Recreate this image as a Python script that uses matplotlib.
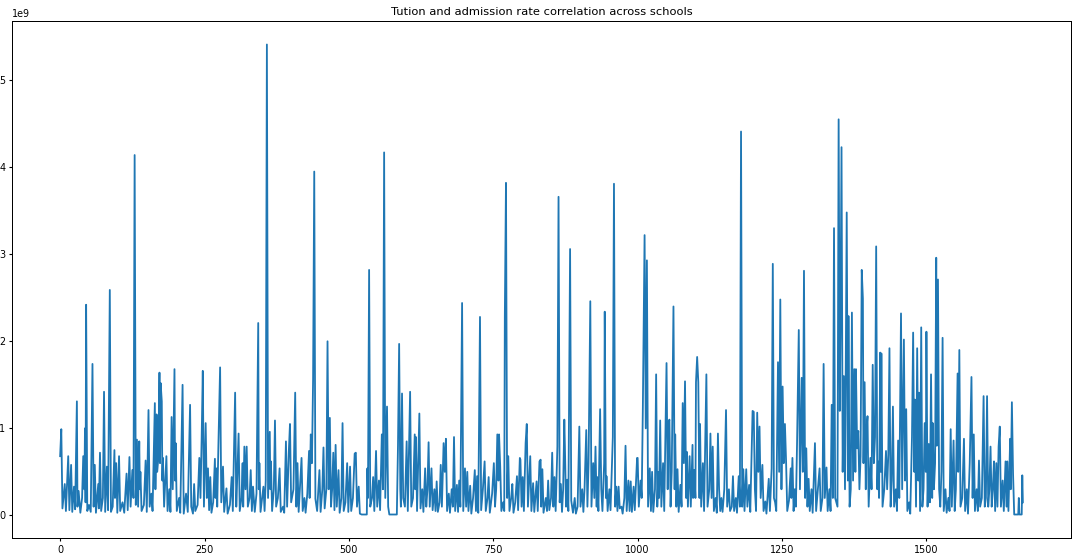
"""Tuition vs. admission rate line across schools (recreation of notebook chart)."""
import matplotlib
matplotlib.use("Agg")
import matplotlib.pyplot as plt
import numpy as np

OUT_PATH = "out.png"

# school row index (x) and value in units of 1e9 (y)
school_index = [
    0, 2, 4, 8, 10, 14, 16, 19, 21, 24, 26, 29, 30, 32, 35, 38, 40, 42, 43, 44,
    45, 47, 50, 53, 56, 58, 60, 62, 66, 67, 69, 71, 74, 76, 78, 81, 83, 86, 88, 91,
    94, 95, 97, 99, 102, 104, 108, 111, 115, 117, 120, 122, 125, 127, 129, 131, 133, 135, 137, 138,
    139, 141, 145, 148, 150, 153, 155, 158, 160, 164, 165, 167, 168, 170, 172, 173, 174, 176, 177, 178,
    180, 184, 186, 189, 191, 193, 195, 198, 199, 200, 202, 206, 208, 212, 214, 218, 221, 225, 227, 230,
    232, 234, 238, 241, 243, 245, 247, 249, 252, 254, 256, 258, 260, 262, 265, 268, 269, 271, 272, 274,
    277, 279, 282, 284, 288, 290, 294, 297, 299, 303, 305, 306, 309, 311, 314, 316, 317, 319, 321, 323,
    325, 328, 330, 332, 334, 337, 340, 343, 344, 345, 347, 352, 354, 356, 358, 360, 363, 364, 365, 367,
    370, 372, 374, 377, 380, 382, 386, 388, 391, 393, 396, 398, 400, 404, 407, 409, 411, 413, 418, 420,
    423, 425, 428, 431, 432, 434, 436, 438, 440, 442, 445, 449, 451, 454, 456, 458, 461, 463, 465, 467,
    469, 471, 473, 475, 477, 479, 482, 484, 487, 489, 491, 494, 497, 499, 502, 504, 507, 510, 512, 514,
    517, 519, 522, 531, 532, 533, 535, 537, 540, 542, 544, 547, 549, 552, 554, 557, 559, 561, 563, 566,
    568, 570, 583, 585, 587, 589, 590, 592, 594, 597, 600, 602, 606, 608, 611, 614, 615, 616, 618, 622,
    624, 627, 629, 632, 634, 636, 638, 640, 643, 645, 648, 650, 652, 654, 657, 659, 661, 664, 666, 668,
    670, 673, 675, 678, 680, 682, 684, 687, 689, 691, 693, 696, 698, 701, 703, 705, 707, 710, 712, 715,
    718, 720, 722, 724, 727, 729, 732, 735, 737, 740, 742, 744, 748, 751, 753, 755, 757, 759, 760, 762,
    764, 767, 769, 770, 772, 774, 776, 778, 781, 783, 785, 788, 791, 793, 796, 797, 799, 801, 803, 806,
    808, 810, 814, 816, 819, 821, 825, 827, 830, 832, 833, 835, 837, 841, 843, 845, 847, 850, 852, 854,
    856, 858, 861, 863, 865, 867, 869, 871, 873, 874, 876, 878, 880, 883, 885, 888, 891, 893, 896, 899,
    901, 904, 906, 908, 911, 913, 915, 918, 920, 923, 925, 927, 929, 930, 932, 935, 937, 939, 942, 943,
    945, 946, 948, 951, 953, 957, 959, 961, 963, 965, 967, 969, 972, 974, 977, 979, 981, 984, 986, 988,
    990, 993, 995, 999, 1000, 1002, 1005, 1007, 1009, 1012, 1014, 1016, 1018, 1021, 1023, 1025, 1027, 1030, 1032, 1034,
    1036, 1037, 1039, 1041, 1044, 1046, 1050, 1052, 1053, 1055, 1057, 1059, 1062, 1064, 1065, 1067, 1069, 1071, 1074, 1076,
    1078, 1080, 1082, 1084, 1085, 1087, 1090, 1092, 1095, 1096, 1098, 1100, 1101, 1103, 1105, 1107, 1108, 1110, 1113, 1115,
    1119, 1121, 1124, 1126, 1128, 1130, 1132, 1135, 1137, 1139, 1141, 1143, 1145, 1147, 1150, 1153, 1155, 1158, 1160, 1163,
    1165, 1167, 1170, 1172, 1175, 1177, 1179, 1181, 1183, 1185, 1188, 1190, 1193, 1195, 1199, 1201, 1203, 1205, 1207, 1209,
    1211, 1213, 1216, 1218, 1221, 1223, 1227, 1229, 1232, 1234, 1236, 1238, 1240, 1243, 1245, 1247, 1249, 1251, 1253, 1255,
    1257, 1259, 1262, 1265, 1266, 1268, 1270, 1272, 1274, 1276, 1279, 1281, 1284, 1286, 1288, 1290, 1292, 1294, 1296, 1298,
    1301, 1303, 1307, 1309, 1312, 1315, 1317, 1320, 1322, 1324, 1327, 1329, 1332, 1334, 1336, 1338, 1340, 1342, 1344, 1346,
    1348, 1350, 1351, 1353, 1355, 1357, 1359, 1362, 1364, 1365, 1367, 1369, 1371, 1373, 1375, 1377, 1378, 1380, 1382, 1384,
    1386, 1388, 1390, 1391, 1393, 1395, 1396, 1398, 1400, 1403, 1405, 1407, 1409, 1411, 1413, 1415, 1416, 1418, 1420, 1421,
    1422, 1424, 1427, 1430, 1432, 1434, 1436, 1438, 1440, 1442, 1444, 1447, 1449, 1451, 1453, 1456, 1458, 1461, 1463, 1465,
    1467, 1470, 1472, 1475, 1477, 1479, 1480, 1482, 1484, 1486, 1487, 1489, 1491, 1493, 1495, 1497, 1499, 1500, 1502, 1504,
    1506, 1508, 1510, 1511, 1513, 1515, 1517, 1518, 1520, 1522, 1524, 1526, 1528, 1530, 1533, 1535, 1538, 1540, 1542, 1544,
    1547, 1549, 1551, 1554, 1555, 1557, 1559, 1562, 1565, 1567, 1570, 1572, 1575, 1578, 1580, 1582, 1584, 1587, 1589, 1591,
    1593, 1596, 1599, 1601, 1603, 1605, 1607, 1609, 1611, 1613, 1615, 1617, 1619, 1621, 1623, 1625, 1627, 1629, 1632, 1634,
    1637, 1639, 1640, 1642, 1645, 1646, 1648, 1650, 1652, 1659, 1660, 1661, 1665, 1666, 1667,
]

tuition_1e9 = [
    0.68, 0.99, 0.08, 0.36, 0.05, 0.68, 0.06, 0.58, 0.04, 0.33, 0.07, 1.31, 0.10, 0.28, 0.03, 0.20, 0.68, 0.30, 1.00, 0.15,
    2.42, 0.05, 0.12, 0.04, 1.74, 0.10, 0.58, 0.03, 0.36, 0.08, 0.72, 0.05, 0.20, 1.42, 0.04, 0.56, 0.06, 2.59, 0.04, 0.10,
    0.75, 0.20, 0.60, 0.03, 0.68, 0.05, 0.15, 0.03, 0.48, 0.06, 0.67, 0.10, 0.52, 0.20, 4.14, 0.12, 0.87, 0.10, 0.85, 0.30,
    0.50, 0.05, 0.12, 0.63, 0.04, 1.21, 0.10, 0.25, 0.05, 1.29, 0.30, 1.16, 0.50, 0.65, 1.64, 0.60, 1.52, 1.31, 0.40, 0.66,
    0.10, 0.68, 0.05, 0.30, 0.04, 1.13, 0.30, 1.68, 0.40, 0.83, 0.05, 0.20, 0.03, 1.50, 0.02, 0.25, 0.04, 1.27, 0.10, 0.02,
    0.36, 0.05, 0.12, 0.66, 0.20, 0.87, 1.66, 0.10, 1.06, 0.20, 0.54, 0.06, 0.44, 0.03, 0.15, 0.65, 0.20, 0.54, 0.10, 0.79,
    1.70, 0.15, 0.56, 0.04, 0.31, 0.02, 0.12, 0.44, 0.05, 1.41, 0.10, 0.30, 0.94, 0.05, 0.20, 0.60, 0.10, 0.79, 0.30, 0.79,
    0.10, 0.20, 0.52, 0.05, 0.33, 0.04, 0.25, 2.21, 0.30, 0.60, 0.04, 0.33, 0.05, 0.40, 5.41, 0.20, 0.96, 0.30, 0.62, 0.05,
    0.30, 1.09, 0.10, 0.20, 0.54, 0.04, 0.10, 0.03, 0.85, 0.10, 0.74, 1.05, 0.15, 0.30, 1.41, 0.10, 0.60, 0.04, 0.66, 0.05,
    0.20, 0.03, 0.25, 0.74, 0.20, 0.93, 0.60, 1.56, 3.95, 0.19, 0.05, 0.52, 0.04, 0.30, 0.78, 0.08, 0.30, 2.00, 0.30, 1.12,
    0.10, 0.30, 0.72, 0.06, 0.81, 0.10, 0.52, 0.03, 0.20, 1.06, 0.05, 0.15, 0.60, 0.04, 0.56, 0.05, 0.20, 0.71, 0.72, 0.10,
    0.33, 0.02, 0.01, 0.01, 0.54, 0.20, 2.82, 0.10, 0.20, 0.44, 0.05, 0.74, 0.10, 0.40, 0.06, 0.93, 0.30, 4.17, 0.20, 1.25,
    0.10, 0.01, 0.01, 0.80, 1.97, 0.30, 0.10, 1.40, 0.20, 0.10, 0.85, 0.05, 1.42, 0.10, 0.20, 0.93, 0.30, 0.90, 0.05, 1.17,
    0.08, 0.30, 0.04, 0.54, 0.10, 0.30, 0.84, 0.10, 0.54, 0.06, 0.30, 0.05, 0.39, 0.04, 0.15, 0.58, 0.10, 0.83, 0.50, 0.88,
    0.05, 0.25, 0.03, 0.30, 0.10, 0.90, 0.05, 0.35, 0.04, 0.40, 0.10, 2.44, 0.05, 0.54, 0.10, 0.50, 0.05, 0.34, 0.02, 0.20,
    0.52, 0.05, 0.45, 0.03, 2.28, 0.06, 0.30, 0.62, 0.05, 0.20, 0.44, 0.03, 0.25, 0.60, 0.10, 0.30, 0.93, 0.40, 0.93, 0.56,
    0.05, 0.15, 0.05, 2.29, 3.82, 0.20, 0.68, 0.05, 0.20, 0.36, 0.03, 0.15, 0.45, 0.06, 0.66, 0.64, 0.10, 0.44, 0.05, 0.83,
    1.05, 0.10, 0.68, 0.05, 0.37, 0.04, 0.39, 0.05, 0.62, 0.64, 0.10, 0.53, 0.03, 0.20, 0.05, 0.40, 0.06, 0.20, 0.72, 0.10,
    0.44, 0.05, 0.79, 3.66, 0.15, 0.36, 0.04, 0.30, 1.10, 0.80, 0.10, 0.41, 0.05, 3.06, 0.17, 0.03, 0.20, 0.02, 0.10, 1.02,
    0.10, 0.30, 0.04, 0.30, 0.98, 0.10, 0.60, 2.46, 0.10, 0.60, 0.20, 0.79, 0.10, 0.44, 0.05, 1.22, 0.30, 0.05, 0.60, 2.34,
    0.20, 0.45, 0.05, 0.30, 0.06, 0.90, 3.81, 0.10, 0.33, 0.05, 0.33, 0.08, 0.10, 0.02, 0.20, 0.80, 0.05, 0.40, 0.05, 0.39,
    0.04, 0.33, 0.06, 0.66, 0.66, 0.10, 0.40, 0.20, 1.24, 3.22, 1.00, 2.93, 0.10, 0.54, 0.05, 0.50, 0.04, 0.30, 1.62, 0.10,
    0.50, 0.20, 1.09, 0.10, 0.60, 0.05, 1.75, 0.30, 1.05, 1.10, 0.10, 0.50, 2.40, 0.30, 0.93, 0.10, 0.53, 0.04, 0.35, 0.10,
    1.29, 0.60, 1.54, 0.20, 0.73, 0.10, 0.68, 0.10, 0.81, 0.20, 0.52, 0.20, 1.53, 1.82, 1.53, 0.20, 1.05, 0.10, 0.60, 0.05,
    1.62, 0.10, 0.30, 0.94, 0.20, 0.79, 0.05, 0.20, 0.03, 0.94, 0.30, 0.05, 0.20, 0.04, 0.30, 1.21, 0.10, 0.30, 0.05, 0.10,
    0.45, 0.05, 0.20, 0.03, 0.45, 0.10, 4.41, 0.10, 0.53, 0.05, 0.53, 0.10, 0.35, 0.04, 1.20, 1.19, 0.30, 0.05, 1.18, 0.50,
    1.02, 0.20, 0.58, 0.05, 0.16, 0.02, 0.42, 0.05, 0.54, 2.89, 0.20, 0.15, 0.05, 1.76, 0.50, 2.48, 0.30, 1.48, 0.60, 1.05,
    0.62, 0.05, 0.17, 0.54, 0.20, 0.66, 0.05, 0.30, 0.10, 0.83, 2.13, 0.30, 1.58, 0.50, 2.81, 0.20, 0.77, 0.10, 0.42, 0.05,
    0.30, 0.03, 0.83, 0.05, 0.30, 0.54, 0.05, 0.20, 1.74, 0.20, 0.55, 0.05, 0.30, 0.05, 1.27, 0.20, 3.30, 0.20, 0.15, 0.10,
    4.55, 1.20, 2.11, 4.23, 0.50, 1.60, 0.30, 3.48, 0.40, 2.29, 0.10, 0.30, 2.33, 0.40, 1.68, 0.50, 1.68, 0.77, 0.97, 0.30,
    0.68, 2.82, 2.49, 0.60, 1.53, 0.30, 0.96, 1.14, 0.10, 0.66, 0.30, 1.73, 0.60, 0.90, 3.09, 0.30, 0.62, 0.20, 1.87, 0.50,
    1.86, 0.10, 0.30, 0.74, 0.30, 0.70, 1.92, 0.10, 0.40, 1.25, 0.10, 0.30, 0.05, 0.86, 0.20, 2.32, 0.30, 2.02, 0.40, 1.22,
    0.05, 0.15, 0.02, 0.90, 2.10, 0.50, 1.33, 0.10, 1.92, 0.40, 1.41, 0.05, 2.16, 0.10, 0.30, 1.06, 0.50, 2.11, 0.10, 0.82,
    0.15, 1.62, 0.20, 1.06, 0.30, 0.60, 2.96, 0.80, 2.71, 0.30, 0.10, 0.50, 2.04, 0.05, 0.30, 0.03, 0.20, 0.05, 0.99, 0.10,
    0.86, 0.05, 0.30, 1.63, 0.50, 1.90, 0.10, 0.20, 0.88, 0.05, 0.30, 0.02, 0.60, 1.59, 0.20, 0.93, 0.05, 0.30, 0.05, 0.63,
    0.10, 0.20, 1.37, 0.10, 0.20, 1.37, 0.10, 0.30, 0.79, 0.10, 0.30, 0.62, 0.05, 0.60, 0.10, 0.79, 1.02, 0.10, 0.40, 0.05,
    0.62, 0.10, 0.62, 0.05, 0.88, 0.30, 1.30, 0.48, 0.01, 0.01, 0.20, 0.01, 0.01, 0.46, 0.15,
]

SCALE = 0.69  # reference was rendered smaller than matplotlib's defaults


def main() -> None:
    x = np.array(school_index)
    y = np.array(tuition_1e9) * 1e9

    plt.rcParams.update({
        "font.size": 10 * SCALE,
        "xtick.major.size": 3.5 * SCALE,
        "ytick.major.size": 3.5 * SCALE,
        "xtick.major.pad": 3.5 * SCALE,
        "ytick.major.pad": 3.5 * SCALE,
        "axes.linewidth": 0.8 * SCALE * 1.3,
    })

    fig = plt.figure(figsize=(10.78, 5.58), dpi=100)
    ax = fig.add_axes([12 / 1078, 20 / 558, 1059 / 1078, 517 / 558])
    ax.plot(x, y, color="#1f77b4", lw=1.3)
    ax.set_xticks([0, 250, 500, 750, 1000, 1250, 1500])
    ax.set_title("Tution and admission rate correlation across schools",
                 fontsize=12 * SCALE, pad=6 * SCALE)

    fig.savefig(OUT_PATH, dpi=100, facecolor="white")


if __name__ == "__main__":
    main()
